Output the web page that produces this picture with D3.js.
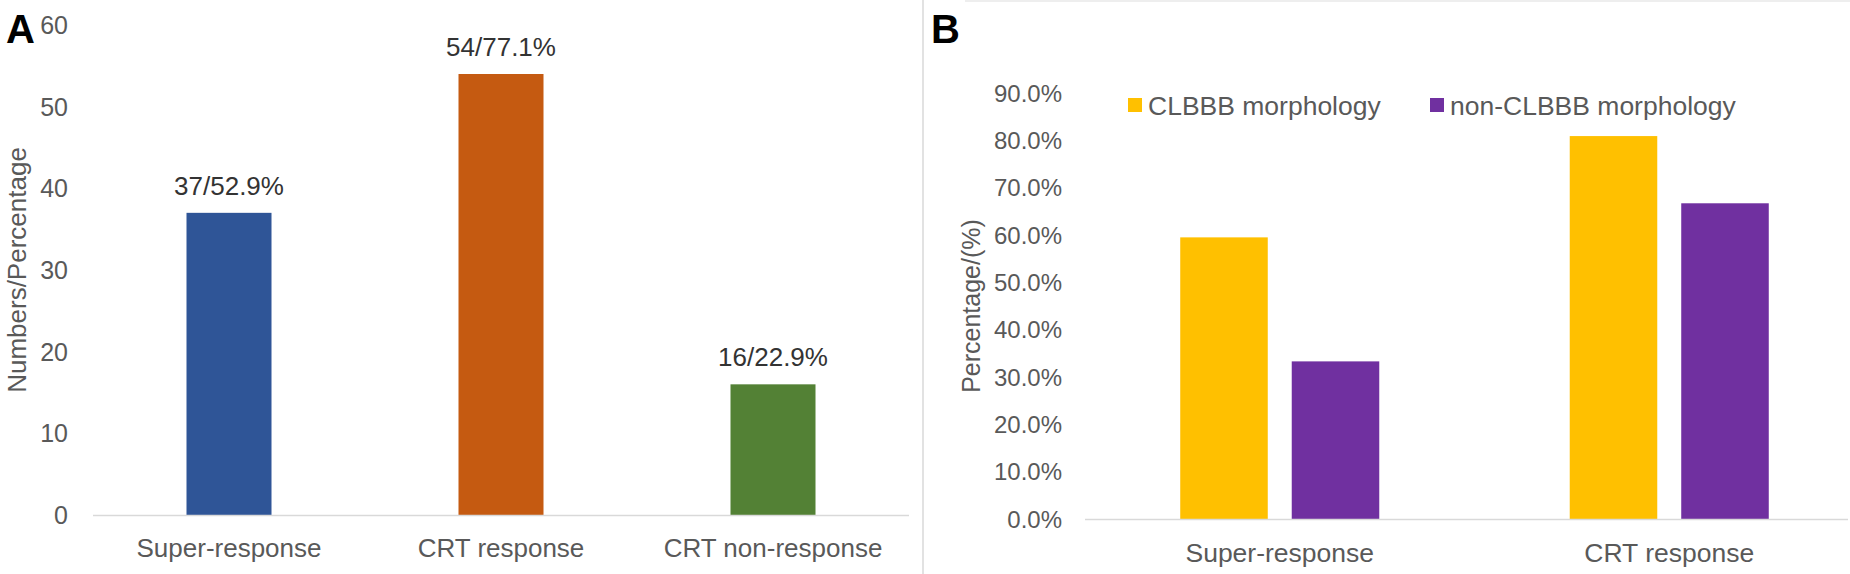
<!DOCTYPE html>
<html><head><meta charset="utf-8">
<script src="https://cdn.jsdelivr.net/npm/d3@7"></script>
<style>body{margin:0;background:#fff}svg{display:block;font-family:"Liberation Sans",Arial,sans-serif}</style>
</head><body>
<svg id="c" width="1850" height="574"></svg>
<script>
// Panel A data
const catsA = ["Super-response", "CRT response", "CRT non-response"];
const valuesA = [37, 54, 16];
const labelsA = ["37/52.9%", "54/77.1%", "16/22.9%"];
const colorsA = ["#2F5597", "#C55A11", "#538135"];
const ticksA = [0, 10, 20, 30, 40, 50, 60];

// Panel B data
const catsB = ["Super-response", "CRT response"];
const seriesB = ["CLBBB morphology", "non-CLBBB morphology"];
const clbbb = [0.595, 0.809];
const nonClbbb = [0.333, 0.667];
const colorsB = ["#FFC000", "#7030A0"];
const ticksB = [0, 0.1, 0.2, 0.3, 0.4, 0.5, 0.6, 0.7, 0.8, 0.9];

const svg = d3.select("#c");
const grey = "#595959";

// ---------- Panel A ----------
const xA = d3.scaleBand().domain(catsA).range([93, 909]).paddingInner(0.6875).paddingOuter(0.34375);
const yA = d3.scaleLinear().domain([0, 60]).range([515, 25]);

const gA = svg.append("g");
gA.selectAll("text.ytA").data(ticksA).join("text")
  .attr("x", 68).attr("y", d => yA(d)).attr("dy", "0.36em")
  .attr("text-anchor", "end").attr("font-size", 25).attr("fill", grey).text(d => d);

gA.selectAll("rect").data(valuesA).join("rect")
  .attr("x", (d, i) => xA(catsA[i])).attr("width", xA.bandwidth())
  .attr("y", d => yA(d)).attr("height", d => yA(0) - yA(d))
  .attr("fill", (d, i) => colorsA[i]);

gA.append("line").attr("x1", 93).attr("x2", 909).attr("y1", yA(0) + 0.5).attr("y2", yA(0) + 0.5)
  .attr("stroke", "#d9d9d9").attr("stroke-width", 1.5);

gA.selectAll("text.dl").data(valuesA).join("text")
  .attr("x", (d, i) => xA(catsA[i]) + xA.bandwidth() / 2).attr("y", d => yA(d) - 18)
  .attr("text-anchor", "middle").attr("font-size", 26).attr("fill", "#333").text((d, i) => labelsA[i]);

gA.selectAll("text.cat").data(catsA).join("text")
  .attr("x", d => xA(d) + xA.bandwidth() / 2).attr("y", 557)
  .attr("text-anchor", "middle").attr("font-size", 26).attr("fill", grey).text(d => d);

gA.append("text").attr("transform", "translate(26,270) rotate(-90)")
  .attr("text-anchor", "middle").attr("font-size", 26).attr("fill", grey).text("Numbers/Percentage");

svg.append("text").attr("x", 6).attr("y", 43).attr("font-size", 40).attr("font-weight", "bold").attr("fill", "#000").text("A");

// divider and panel B border
svg.append("line").attr("x1", 923).attr("x2", 923).attr("y1", 0).attr("y2", 574).attr("stroke", "#d9d9d9").attr("stroke-width", 1.5);
svg.append("line").attr("x1", 965).attr("x2", 1850).attr("y1", 1).attr("y2", 1).attr("stroke", "#e8e8e8").attr("stroke-width", 1.5);

// ---------- Panel B ----------
const x0 = d3.scaleBand().domain(catsB).range([1085, 1864]).paddingInner(0.489).paddingOuter(0.2445);
const x1 = d3.scaleBand().domain(seriesB).range([0, x0.bandwidth()]).paddingInner(0.215);
const yB = d3.scaleLinear().domain([0, 0.9]).range([519, 93]);

const gB = svg.append("g");
gB.selectAll("text.ytB").data(ticksB).join("text")
  .attr("x", 1062).attr("y", d => yB(d)).attr("dy", "0.36em")
  .attr("text-anchor", "end").attr("font-size", 24).attr("fill", grey).text(d => d3.format(".1%")(d));

const dataB = [clbbb, nonClbbb];
seriesB.forEach((s, si) => {
  gB.selectAll("rect.s" + si).data(dataB[si]).join("rect")
    .attr("x", (d, i) => x0(catsB[i]) + x1(s)).attr("width", x1.bandwidth())
    .attr("y", d => yB(d)).attr("height", d => yB(0) - yB(d))
    .attr("fill", colorsB[si]);
});

gB.append("line").attr("x1", 1085).attr("x2", 1848).attr("y1", yB(0) + 0.5).attr("y2", yB(0) + 0.5)
  .attr("stroke", "#d9d9d9").attr("stroke-width", 1.5);

gB.selectAll("text.catB").data(catsB).join("text")
  .attr("x", d => x0(d) + x0.bandwidth() / 2).attr("y", 562)
  .attr("text-anchor", "middle").attr("font-size", 26.5).attr("fill", grey).text(d => d);

gB.append("text").attr("transform", "translate(980,306) rotate(-90)")
  .attr("text-anchor", "middle").attr("font-size", 25).attr("fill", grey).text("Percentage/(%)");

// legend
const legX = [1128, 1430];
seriesB.forEach((s, i) => {
  gB.append("rect").attr("x", legX[i]).attr("y", 98).attr("width", 14).attr("height", 14).attr("fill", colorsB[i]);
  gB.append("text").attr("x", legX[i] + 20).attr("y", 105).attr("dy", "0.36em")
    .attr("font-size", 26.5).attr("fill", grey).text(s);
});

svg.append("text").attr("x", 931).attr("y", 43).attr("font-size", 40).attr("font-weight", "bold").attr("fill", "#000").text("B");
</script>
</body></html>
